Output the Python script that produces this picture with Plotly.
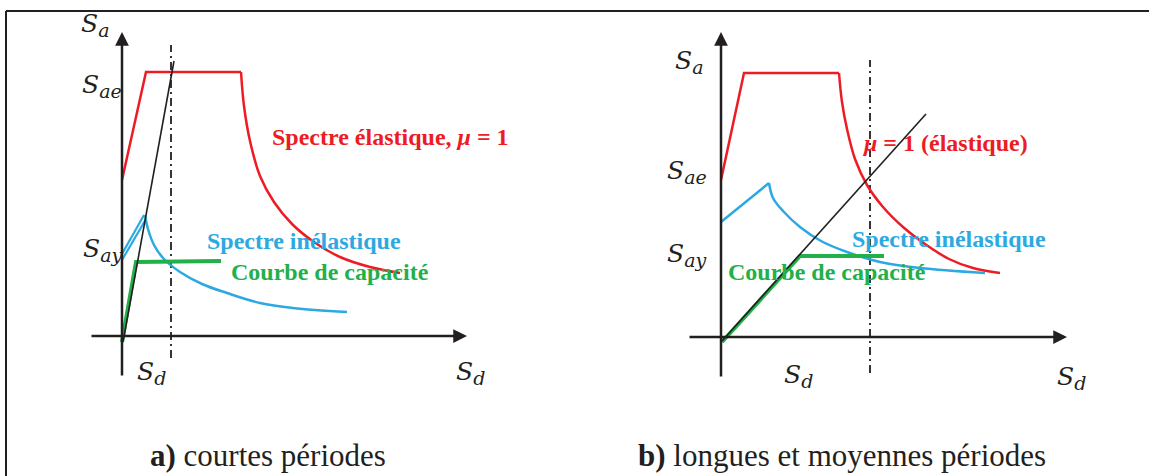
import plotly.graph_objects as go

# ---------------- data (schematic units, Sd / Sa) ----------------
# Panel a) courtes périodes
a_el_lin_sd = [0.00, 0.24, 1.19]
a_el_lin_sa = [1.56, 2.64, 2.64]
a_el_cur_sd = [1.19, 1.22, 1.28, 1.38, 1.52, 1.70, 1.92, 2.18, 2.48, 2.78]
a_el_cur_sa = [2.64, 2.30, 1.95, 1.60, 1.34, 1.12, 0.94, 0.79, 0.69, 0.63]
a_in_up1_sd = [0.00, 0.22]
a_in_up1_sa = [0.82, 1.21]
a_in_up2_sd = [0.00, 0.24]
a_in_up2_sa = [0.76, 1.17]
a_in_cur_sd = [0.23, 0.26, 0.32, 0.42, 0.58, 0.80, 1.05, 1.38, 1.71, 2.25]
a_in_cur_sa = [1.21, 1.07, 0.91, 0.77, 0.64, 0.52, 0.43, 0.33, 0.28, 0.24]
a_cap_sd = [0.00, 0.14, 0.99]
a_cap_sa = [-0.06, 0.74, 0.75]
a_dem_sd = [0.01, 0.52]
a_dem_sa = [-0.06, 2.75]
a_sd_line = 0.49
a_sd_span = [-0.22, 2.91]

# Panel b) longues et moyennes périodes
b_el_lin_sd = [0.00, 0.23, 1.18]
b_el_lin_sa = [1.57, 2.64, 2.64]
b_el_cur_sd = [1.18, 1.21, 1.26, 1.34, 1.46, 1.62, 1.82, 2.04, 2.28, 2.52, 2.79]
b_el_cur_sa = [2.64, 2.35, 2.08, 1.78, 1.52, 1.30, 1.10, 0.93, 0.78, 0.69, 0.64]
b_in_lin_sd = [0.00, 0.48]
b_in_lin_sa = [1.15, 1.54]
b_in_cur_sd = [0.48, 0.52, 0.62, 0.79, 1.00, 1.26, 1.59, 1.99, 2.64]
b_in_cur_sa = [1.54, 1.39, 1.26, 1.10, 0.96, 0.85, 0.75, 0.69, 0.64]
b_cap_sd = [0.01, 0.79, 1.63]
b_cap_sa = [-0.05, 0.81, 0.81]
b_dem_sd = [0.01, 2.05]
b_dem_sa = [-0.04, 2.23]
b_sd_line = 1.49
b_sd_span = [-0.36, 2.77]

# axis extents (start, arrow tip)
a_xaxis = [-0.32, 3.45]
a_yaxis = [-0.41, 3.04]
b_xaxis = [-0.33, 3.46]
b_yaxis = [-0.41, 3.05]

RED = "#ED1C24"
BLUE = "#2CA9E1"
GREEN = "#22B04B"
BLACK = "#231F20"
SERIF = "Liberation Serif"
MATHF = "DejaVu Serif"

fig = go.Figure()


def line(xs, ys, color, width, xa, ya, shape="linear", dash=None):
    fig.add_trace(go.Scatter(x=xs, y=ys, mode="lines", xaxis=xa, yaxis=ya,
                             line=dict(color=color, width=width, shape=shape,
                                       smoothing=1.0, dash=dash),
                             hoverinfo="skip", showlegend=False))


for (xa, ya, el_l, el_c, sdl, sds) in [
    ("x", "y", (a_el_lin_sd, a_el_lin_sa), (a_el_cur_sd, a_el_cur_sa), a_sd_line, a_sd_span),
    ("x2", "y2", (b_el_lin_sd, b_el_lin_sa), (b_el_cur_sd, b_el_cur_sa), b_sd_line, b_sd_span),
]:
    line([sdl, sdl], sds, BLACK, 1.8, xa, ya, dash="8px,4px,2px,4px")
    line(el_l[0], el_l[1], RED, 2.5, xa, ya)
    line(el_c[0], el_c[1], RED, 2.5, xa, ya, shape="spline")

# inelastic spectra
line(a_in_up1_sd, a_in_up1_sa, BLUE, 2.2, "x", "y")
line(a_in_up2_sd, a_in_up2_sa, BLUE, 2.2, "x", "y")
line(a_in_cur_sd, a_in_cur_sa, BLUE, 2.5, "x", "y", shape="spline")
line(b_in_lin_sd, b_in_lin_sa, BLUE, 2.5, "x2", "y2")
line(b_in_cur_sd, b_in_cur_sa, BLUE, 2.5, "x2", "y2", shape="spline")

# capacity curves and demand lines
line(a_cap_sd, a_cap_sa, GREEN, 4, "x", "y")
line(a_dem_sd, a_dem_sa, BLACK, 1.6, "x", "y")
line(b_cap_sd, b_cap_sa, GREEN, 4, "x2", "y2")
line(b_dem_sd, b_dem_sa, BLACK, 1.6, "x2", "y2")

# axes with arrow heads
ann = []
for xr, yr, xe, ye in [("x", "y", a_xaxis, a_yaxis), ("x2", "y2", b_xaxis, b_yaxis)]:
    ann.append(dict(x=xe[1], y=0, ax=xe[0], ay=0, xref=xr, yref=yr, axref=xr, ayref=yr,
                    showarrow=True, arrowhead=2, arrowsize=1.1, arrowwidth=2.5,
                    arrowcolor=BLACK, text=""))
    ann.append(dict(x=0, y=ye[1], ax=0, ay=ye[0], xref=xr, yref=yr, axref=xr, ayref=yr,
                    showarrow=True, arrowhead=2, arrowsize=1.1, arrowwidth=2.5,
                    arrowcolor=BLACK, text=""))


def S(sub):
    return ("<i>S</i><sub><span style='font-size:19px'><i>%s</i></span></sub>" % sub)


math_labels = [
    ("x", "y", -0.27, 3.11, S("a")), ("x", "y", -0.20, 2.50, S("ae")),
    ("x", "y", -0.20, 0.86, S("ay")), ("x", "y", 0.29, -0.37, S("d")),
    ("x", "y", 3.48, -0.37, S("d")),
    ("x2", "y2", -0.32, 2.75, S("a")), ("x2", "y2", -0.34, 1.65, S("ae")),
    ("x2", "y2", -0.35, 0.82, S("ay")), ("x2", "y2", 0.77, -0.39, S("d")),
    ("x2", "y2", 3.50, -0.41, S("d")),
]
for xr, yr, x, y, t in math_labels:
    ann.append(dict(x=x, y=y, xref=xr, yref=yr, text=t, showarrow=False,
                    font=dict(family=MATHF, size=25, color=BLACK),
                    xanchor="center", yanchor="middle"))

curve_labels = [
    ("x", "y", 1.48, 1.99, "<b>Spectre élastique, <i>μ</i> = 1</b>", RED),
    ("x", "y", 0.83, 0.95, "<b>Spectre inélastique</b>", BLUE),
    ("x", "y", 1.07, 0.64, "<b>Courbe de capacité</b>", GREEN),
    ("x2", "y2", 1.39, 1.94, "<b><i>μ</i> = 1 (élastique)</b>", RED),
    ("x2", "y2", 1.29, 0.98, "<b>Spectre inélastique</b>", BLUE),
    ("x2", "y2", 0.05, 0.65, "<b>Courbe de capacité</b>", GREEN),
]
for xr, yr, x, y, t, c in curve_labels:
    ann.append(dict(x=x, y=y, xref=xr, yref=yr, text=t, showarrow=False,
                    font=dict(family=SERIF, size=24, color=c),
                    xanchor="left", yanchor="middle"))

W, H = 1149, 476
captions = [(268, 455, "<b>a)</b> courtes périodes"),
            (842, 455, "<b>b)</b> longues et moyennes périodes")]
for px, py, t in captions:
    ann.append(dict(x=px / W, y=1 - py / H, xref="paper", yref="paper", text=t,
                    showarrow=False, font=dict(family=SERIF, size=31, color=BLACK),
                    xanchor="center", yanchor="middle"))

# frame
shapes = [
    dict(type="line", xref="paper", yref="paper", x0=6 / W, x1=1, y0=1 - 11 / H, y1=1 - 11 / H,
         line=dict(color=BLACK, width=2)),
    dict(type="line", xref="paper", yref="paper", x0=6 / W, x1=6 / W, y0=0, y1=1 - 11 / H,
         line=dict(color=BLACK, width=2)),
]

ax_common = dict(visible=False, fixedrange=True)
fig.update_layout(
    width=W, height=H, margin=dict(l=0, r=0, t=0, b=0),
    paper_bgcolor="white", plot_bgcolor="white",
    xaxis=dict(domain=[0, 1], range=[-1.22, 10.27], **ax_common),
    yaxis=dict(domain=[0, 1], range=[-1.40, 3.36], **ax_common),
    xaxis2=dict(domain=[0, 1], range=[-7.21, 4.28], overlaying="x", **ax_common),
    yaxis2=dict(domain=[0, 1], range=[-1.39, 3.37], overlaying="y", **ax_common),
    annotations=ann, shapes=shapes,
)

fig.write_html("out.html", config={"displayModeBar": False},
               post_script="document.body.style.margin='0';document.body.style.padding='0';")
